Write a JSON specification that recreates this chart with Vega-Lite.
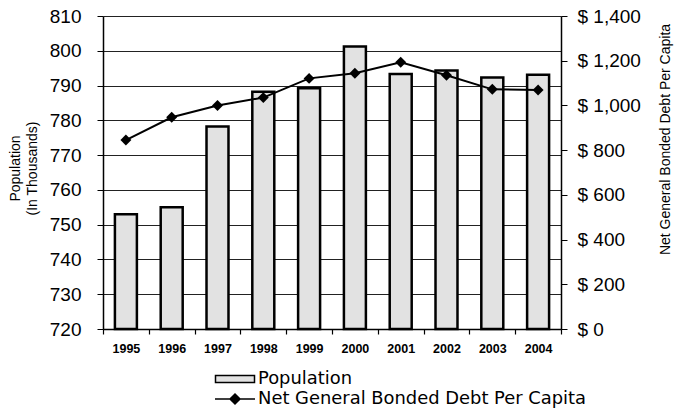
{
  "$schema": "https://vega.github.io/schema/vega-lite/v6.json",
  "autosize": "none",
  "width": 458,
  "height": 313,
  "padding": {"left": 103, "top": 16, "right": 113, "bottom": 81},
  "background": "white",
  "config": {
    "view": {"stroke": null},
    "font": "Liberation Sans",
    "axis": {"labelColor": "black", "titleColor": "black", "domainColor": "black", "tickColor": "black", "labelFont": "Liberation Sans", "titleFont": "Liberation Sans"},
    "legend": {"labelFont": "DejaVu Sans", "labelFontSize": 17.9, "labelColor": "black", "labelLimit": 400, "padding": 0, "rowPadding": 0, "symbolSize": 400, "labelOffset": 12, "symbolOpacity": 1}
  },
  "data": {
    "values": [
      {"year": "1995", "population": 753, "debt": 845, "series": "Net General Bonded Debt Per Capita"},
      {"year": "1996", "population": 755, "debt": 947, "series": "Net General Bonded Debt Per Capita"},
      {"year": "1997", "population": 778.2, "debt": 1000, "series": "Net General Bonded Debt Per Capita"},
      {"year": "1998", "population": 788.2, "debt": 1035, "series": "Net General Bonded Debt Per Capita"},
      {"year": "1999", "population": 789.2, "debt": 1121, "series": "Net General Bonded Debt Per Capita"},
      {"year": "2000", "population": 801.2, "debt": 1144, "series": "Net General Bonded Debt Per Capita"},
      {"year": "2001", "population": 793.3, "debt": 1193, "series": "Net General Bonded Debt Per Capita"},
      {"year": "2002", "population": 794.3, "debt": 1135, "series": "Net General Bonded Debt Per Capita"},
      {"year": "2003", "population": 792.3, "debt": 1072, "series": "Net General Bonded Debt Per Capita"},
      {"year": "2004", "population": 793.1, "debt": 1069, "series": "Net General Bonded Debt Per Capita"}
    ]
  },
  "encoding": {
    "x": {
      "field": "year", "type": "ordinal",
      "scale": {"paddingInner": 0, "paddingOuter": 0},
      "axis": {
        "title": null, "labelAngle": 0, "labelFontSize": 12.5, "labelFontWeight": "bold",
        "tickBand": "extent", "tickSize": 5, "labelPadding": 8, "domainWidth": 1.5, "tickWidth": 1.2
      }
    }
  },
  "layer": [
    {
      "mark": {"type": "bar", "width": {"band": 0.48}, "fill": "#e2e2e2", "stroke": "black", "strokeWidth": 2.5},
      "encoding": {
        "y": {
          "field": "population", "type": "quantitative",
          "scale": {"domain": [720, 810], "nice": false, "zero": false},
          "axis": {
            "orient": "left", "values": [720, 730, 740, 750, 760, 770, 780, 790, 800, 810],
            "grid": true, "gridColor": "#222222", "gridWidth": 1, "gridOpacity": 1,
            "labelFontSize": 19, "labelPadding": 16, "tickSize": 6, "domainWidth": 1.5,
            "title": ["Population", "(In Thousands)"], "titleFontSize": 14, "titleFontWeight": "normal",
            "titleAngle": 270, "titleX": -88, "titleY": 152, "titleAlign": "center", "titleBaseline": "middle", "titleLineHeight": 17
          }
        },
        "y2": {"datum": 720}
      }
    },
    {
      "encoding": {
        "y": {
          "field": "debt", "type": "quantitative",
          "scale": {"domain": [0, 1400], "nice": false},
          "axis": {
            "orient": "right", "values": [0, 200, 400, 600, 800, 1000, 1200, 1400],
            "grid": false, "labelExpr": "'$ ' + format(datum.value, ',')",
            "labelFontSize": 19, "labelPadding": 10, "tickSize": 6, "domainWidth": 1.5,
            "title": "Net General Bonded Debt Per Capita", "titleFontSize": 14, "titleFontWeight": "normal",
            "titleAngle": 270, "titleX": 104, "titleY": 123, "titleAlign": "center", "titleBaseline": "middle"
          }
        }
      },
      "layer": [
        {
          "mark": {"type": "line", "color": "black", "strokeWidth": 2}
        },
        {
          "mark": {"type": "point", "shape": "diamond", "filled": true, "color": "black", "opacity": 1, "size": 120}
        },
        {
          "mark": {"type": "point", "filled": true, "stroke": "black", "strokeWidth": 2, "opacity": 0},
          "encoding": {
            "shape": {
              "field": "series", "type": "nominal",
              "scale": {"domain": ["Population", "Net General Bonded Debt Per Capita"], "range": ["M-1.95,-0.35H1.95V0.35H-1.95Z", "M-2,0H2M0,-0.5L0.5,0L0,0.5L-0.5,0Z"]},
              "legend": {"title": null, "orient": "none", "legendX": 121, "legendY": 352}
            },
            "fill": {
              "field": "series", "type": "nominal",
              "scale": {"domain": ["Population", "Net General Bonded Debt Per Capita"], "range": ["#e2e2e2", "black"]},
              "legend": {"title": null, "orient": "none", "legendX": 121, "legendY": 352}
            }
          }
        }
      ]
    }
  ],
  "resolve": {"scale": {"y": "independent"}}
}
